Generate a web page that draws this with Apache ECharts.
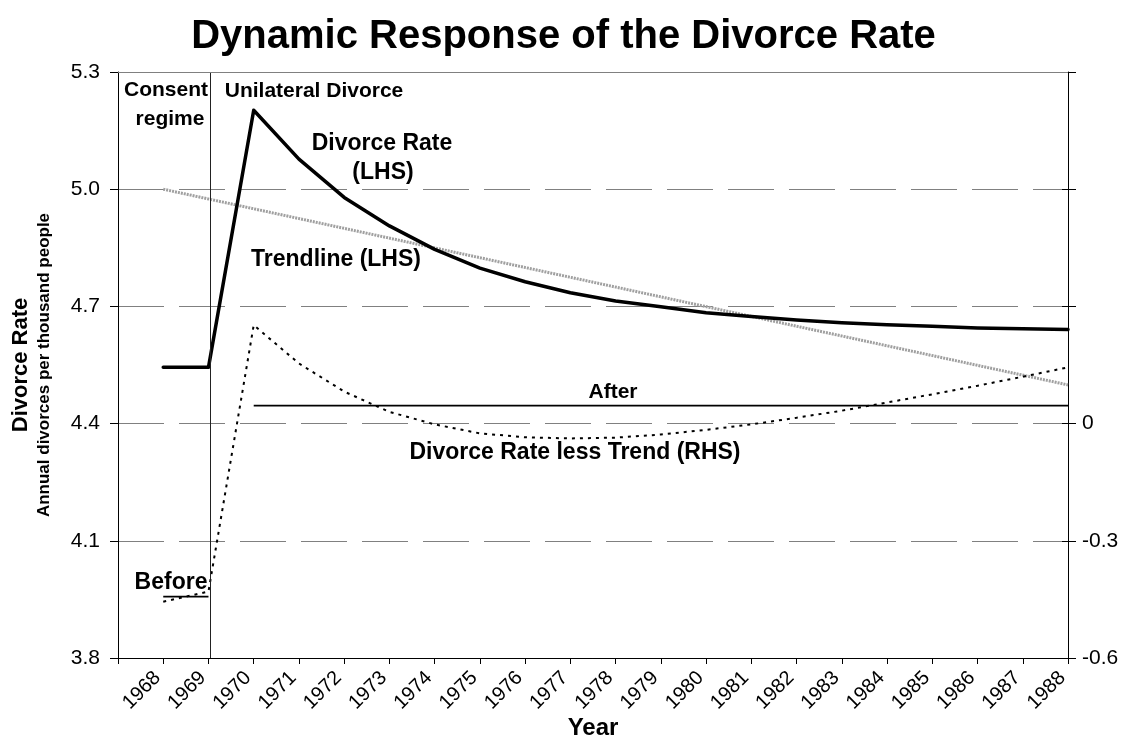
<!DOCTYPE html>
<html><head><meta charset="utf-8">
<script src="https://cdn.jsdelivr.net/npm/echarts@6/dist/echarts.min.js"></script>
<style>html,body{margin:0;padding:0;background:#fff}#c{width:1127px;height:741px}</style>
</head><body><div id="c"></div>
<script>
// ---- data ----
const years = [1968,1969,1970,1971,1972,1973,1974,1975,1976,1977,1978,1979,1980,1981,1982,1983,1984,1985,1986,1987,1988];
const divorceRate = [4.544,4.544,5.202,5.077,4.979,4.906,4.846,4.798,4.763,4.735,4.714,4.699,4.684,4.674,4.665,4.658,4.653,4.649,4.645,4.643,4.641];
const lessTrend = [-0.456,-0.43,0.252,0.154,0.082,0.030,-0.002,-0.025,-0.035,-0.038,-0.036,-0.028,-0.016,-0.002,0.015,0.033,0.054,0.075,0.097,0.120,0.144];
const trendYears = [1968,1988];
const trendValues = [5.0,4.499];
const beforeYears = [1968,1969];
const beforeValues = [-0.443,-0.443];
const afterYears = [1970,1988];
const afterValues = [0.046,0.046];
const regimeBreak = 1969.05;
const leftTicks = {min:3.8, max:5.3, interval:0.3};
const rightTicks = {min:-0.6, max:0.9, interval:0.3};

const FF = '"Liberation Sans", Arial, Helvetica, sans-serif';
const pair = (xs, ys) => xs.map((x, i) => [x, ys[i]]);
const chart = echarts.init(document.getElementById('c'), null, {renderer:'canvas'});

function txt(text, x, y, size) {
  return {type:'text', x:x, y:y, silent:true,
    style:{text:text, fill:'#000', font:'bold ' + size + 'px ' + FF, align:'center', verticalAlign:'middle'}};
}

const option = {
  animation:false,
  backgroundColor:'#fff',
  textStyle:{fontFamily:FF},
  title:{text:'Dynamic Response of the Divorce Rate', left:'center', top:12,
    textStyle:{fontFamily:FF, fontSize:40, fontWeight:'bold', color:'#000'}},
  grid:{left:118, right:59, top:72, bottom:83, containLabel:false, outerBoundsMode:'none'},
  xAxis:{type:'value', min:1967, max:1988, interval:1,
    name:'Year', nameLocation:'middle', nameGap:58, nameMoveOverlap:false,
    nameTextStyle:{fontFamily:FF, fontSize:24, fontWeight:'bold', color:'#000'},
    axisLine:{onZero:false, lineStyle:{color:'#000', width:1}},
    axisTick:{length:6, lineStyle:{color:'#000'}},
    axisLabel:{rotate:45, margin:11, padding:[0,8,0,0], fontSize:20, color:'#000', fontFamily:FF,
      formatter:v => v === 1967 ? '' : String(v)},
    splitLine:{show:false}},
  yAxis:[
    {type:'value', min:leftTicks.min, max:leftTicks.max, interval:leftTicks.interval, position:'left',
      name:'{a|Divorce Rate}\n{b|Annual divorces per thousand people}',
      nameLocation:'middle', nameRotate:90, nameGap:64, nameMoveOverlap:false,
      nameTextStyle:{align:'center', rich:{
        a:{fontFamily:FF, fontSize:22, fontWeight:'bold', color:'#000', lineHeight:26},
        b:{fontFamily:FF, fontSize:17, fontWeight:'bold', color:'#000', lineHeight:20}}},
      axisLine:{show:true, onZero:false, lineStyle:{color:'#000', width:1}},
      axisTick:{show:true, length:8, lineStyle:{color:'#000'}},
      axisLabel:{fontSize:21, color:'#000', margin:18, fontFamily:FF, formatter:v => v.toFixed(1)},
      splitLine:{show:true, lineStyle:{color:'#808080', width:1, type:[46,15]}}},
    {type:'value', min:rightTicks.min, max:rightTicks.max, interval:rightTicks.interval, position:'right',
      axisLine:{show:true, onZero:false, lineStyle:{color:'#000', width:1}},
      axisTick:{show:true, length:8, lineStyle:{color:'#000'}},
      axisLabel:{fontSize:21, color:'#000', margin:14, fontFamily:FF,
        formatter:v => v > 1e-9 ? '' : (Math.abs(v) < 1e-9 ? '0' : v.toFixed(1))},
      splitLine:{show:false}},
    {type:'value', min:rightTicks.min, max:rightTicks.max, interval:rightTicks.interval, position:'right',
      axisLine:{show:false, onZero:false},
      axisTick:{show:true, inside:true, length:6, lineStyle:{color:'#000'}},
      axisLabel:{show:false}, splitLine:{show:false}}
  ],
  series:[
    {name:'Trendline (LHS)', type:'line', yAxisIndex:0, data:pair(trendYears, trendValues),
      showSymbol:false, symbol:'none', z:2,
      lineStyle:{color:'#a0a0a0', width:3, type:[2,1]}},
    {name:'Divorce Rate (LHS)', type:'line', yAxisIndex:0, data:pair(years, divorceRate),
      showSymbol:false, symbol:'none', z:4,
      lineStyle:{color:'#000', width:3.5, join:'round', cap:'round'},
      markLine:{silent:true, symbol:'none', label:{show:false}, animation:false,
        data:[
          {xAxis:regimeBreak, lineStyle:{color:'#222', width:1, type:'solid'}},
          {yAxis:leftTicks.max, lineStyle:{color:'#808080', width:1, type:'solid'}}
        ]}},
    {name:'Divorce Rate less Trend (RHS)', type:'line', yAxisIndex:1, data:pair(years, lessTrend),
      showSymbol:false, symbol:'none', z:3,
      lineStyle:{color:'#000', width:2, type:[3,5]}},
    {name:'Before', type:'line', yAxisIndex:1, data:pair(beforeYears, beforeValues),
      showSymbol:false, symbol:'none', z:3, lineStyle:{color:'#000', width:1.6}},
    {name:'After', type:'line', yAxisIndex:1, data:pair(afterYears, afterValues),
      showSymbol:false, symbol:'none', z:3, lineStyle:{color:'#000', width:1.6}}
  ],
  graphic:[
    txt('Consent', 166, 90, 21),
    txt('regime', 170, 119, 21),
    txt('Unilateral Divorce', 314, 91, 21),
    txt('Divorce Rate', 382, 144, 23),
    txt('(LHS)', 383, 173, 23),
    txt('Trendline (LHS)', 336, 260, 23),
    txt('After', 613, 392, 21),
    txt('Divorce Rate less Trend (RHS)', 575, 453, 23),
    txt('Before', 171, 583, 23)
  ]
};
chart.setOption(option);
</script></body></html>
